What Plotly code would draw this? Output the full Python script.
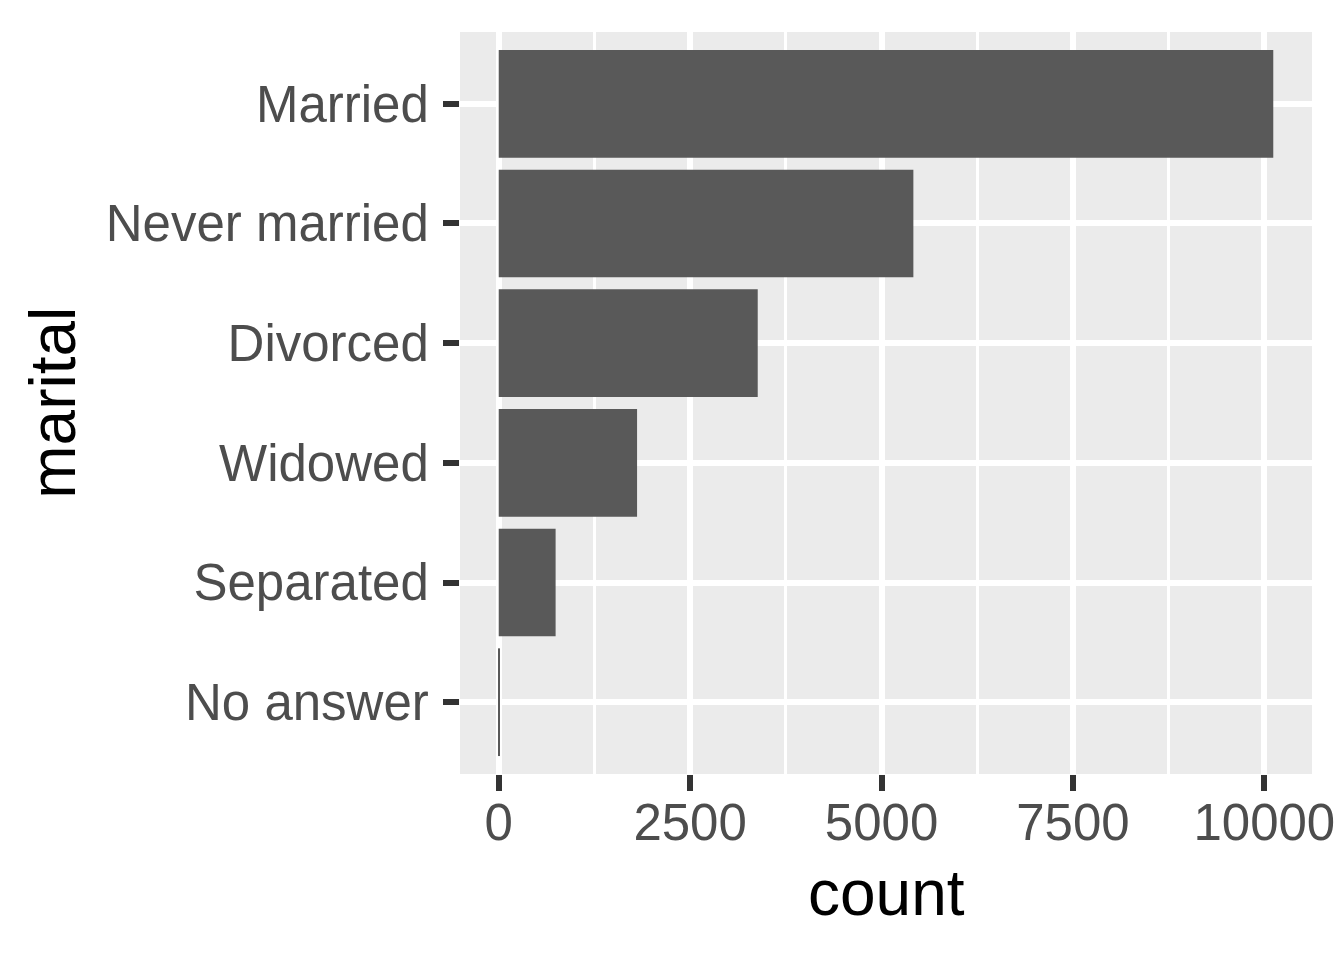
import plotly.graph_objects as go

# marital status counts (gss_cat)
categories = ["Married", "Never married", "Divorced", "Widowed", "Separated", "No answer"]
counts = [10117, 5416, 3383, 1807, 743, 17]
x_ticks = [0, 2500, 5000, 7500, 10000]

fig = go.Figure()
fig.add_trace(go.Bar(
    x=counts, y=categories, orientation="h", width=0.9,
    marker=dict(color="#595959", line=dict(width=0)),
))

xmax = max(counts)
pad = xmax * 0.05

fig.update_xaxes(
    range=[-pad, xmax + pad],
    tickvals=x_ticks, ticktext=[str(v) for v in x_ticks],
    showgrid=True, gridcolor="white", gridwidth=6,
    minor=dict(showgrid=True, gridcolor="white", gridwidth=3, dtick=1250, tick0=0),
    ticks="outside", ticklen=16, tickwidth=6, tickcolor="#333333",
    ticklabelstandoff=-12,
    tickfont=dict(family="Liberation Sans, Arial", size=51, color="#4D4D4D"),
    zeroline=False, showline=False,
)
fig.update_yaxes(
    type="category", categoryorder="array", categoryarray=categories,
    range=[len(categories) - 0.4, -0.6],
    showgrid=True, gridcolor="white", gridwidth=6,
    ticks="outside", ticklen=16, tickwidth=6, tickcolor="#333333",
    ticklabelstandoff=4,
    tickfont=dict(family="Liberation Sans, Arial", size=51, color="#4D4D4D"),
    zeroline=False, showline=False,
)

#titulos de ejes
fig.add_annotation(text="count", xref="paper", yref="paper", x=0.5, y=-0.160,
                   xanchor="center", yanchor="middle", showarrow=False,
                   font=dict(family="Liberation Sans, Arial", size=64, color="black"))
fig.add_annotation(text="marital", xref="paper", yref="paper", x=-0.478, y=0.5,
                   xanchor="center", yanchor="middle", showarrow=False, textangle=-90,
                   font=dict(family="Liberation Sans, Arial", size=64, color="black"))

#la pagina tiene 8px de margen
fig.update_layout(
    width=1344, height=960,
    margin=dict(l=452, r=40, t=24, b=194),
    paper_bgcolor="white", plot_bgcolor="#EBEBEB",
    showlegend=False, bargap=0.1,
)

fig.write_html("out.html")
